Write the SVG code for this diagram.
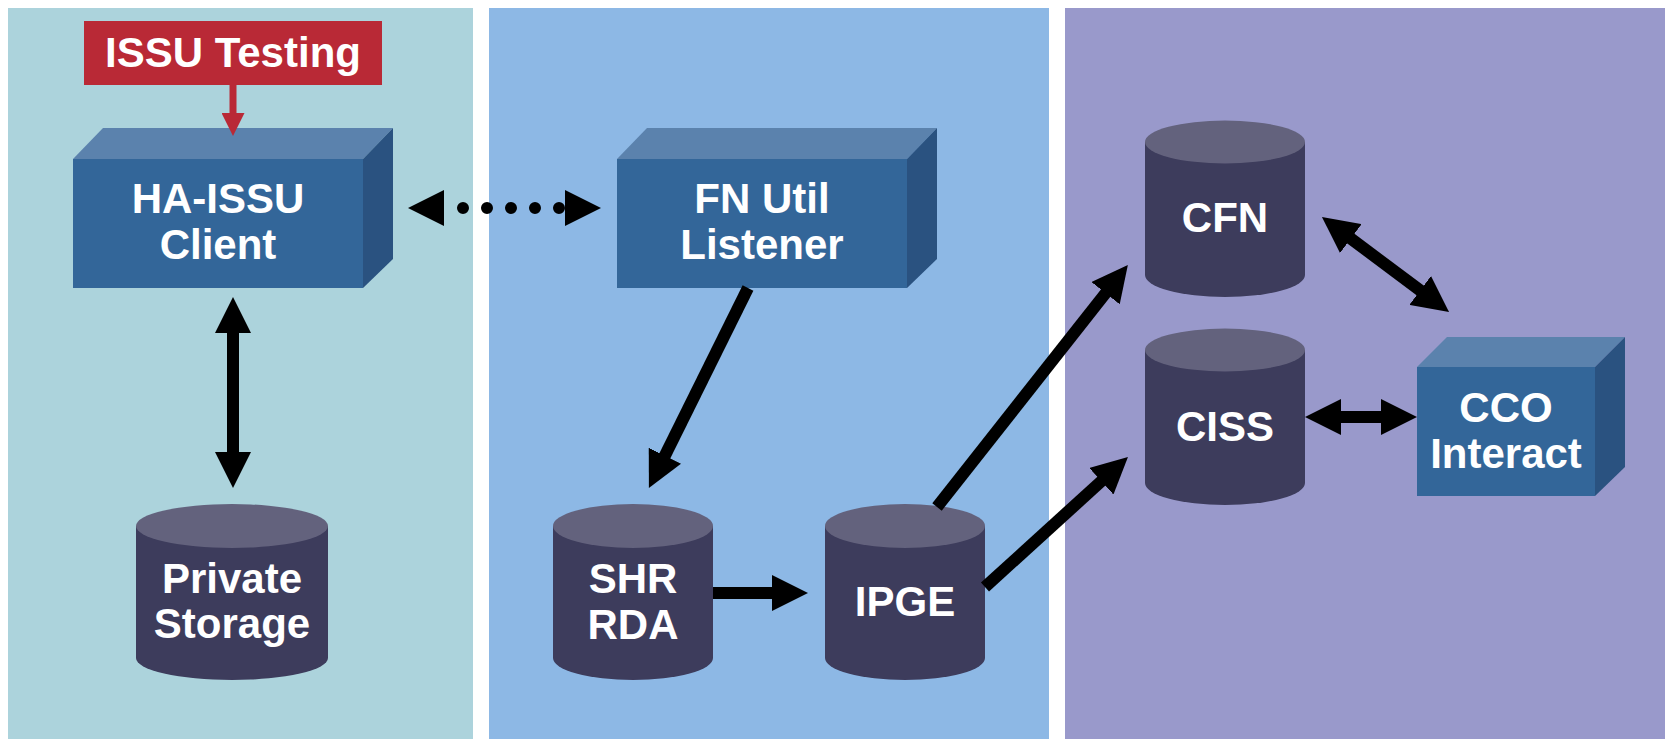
<svg xmlns="http://www.w3.org/2000/svg" width="1665" height="739" viewBox="0 0 1665 739">
<style>
.lbl{font-family:"Liberation Sans",Arial,sans-serif;font-weight:bold;font-size:42px;fill:#ffffff;text-anchor:middle}
.front{fill:#336699}
.top{fill:#5B82AD}
.side{fill:#2A5280}
.body{fill:#3D3C5C}
.lid{fill:#63627D}
.conn{stroke:#000;stroke-width:12;fill:none}
</style>
<defs>
<marker id="ah" viewBox="0 0 36 36" refX="2" refY="18" markerWidth="36" markerHeight="36" markerUnits="userSpaceOnUse" orient="auto-start-reverse">
<path d="M0,0 L36,18 L0,36 Z" fill="#000"/>
</marker>
<marker id="ah0" viewBox="0 0 36 36" refX="0" refY="18" markerWidth="36" markerHeight="36" markerUnits="userSpaceOnUse" orient="auto-start-reverse">
<path d="M0,0 L36,18 L0,36 Z" fill="#000"/>
</marker>
<marker id="ahr" viewBox="0 0 23 23" refX="1" refY="11.5" markerWidth="23" markerHeight="23" markerUnits="userSpaceOnUse" orient="auto">
<path d="M0,0 L23,11.5 L0,23 Z" fill="#B92936"/>
</marker>
</defs>
<rect width="1665" height="739" fill="#ffffff"/>
<g id="panels">
<rect x="8" y="8" width="465" height="731" fill="#ACD3DC"/>
<rect x="489" y="8" width="560" height="731" fill="#8DB8E5"/>
<rect x="1065" y="8" width="600" height="731" fill="#9999CB"/>
</g>
<g id="issu-testing">
<rect x="84" y="21" width="298" height="64" fill="#B92936"/>
<text class="lbl" x="233" y="67">ISSU Testing</text>
</g>
<g id="ha-issu-client">
<polygon class="top" points="73,159 103,128 393,128 363,159"/>
<polygon class="side" points="363,159 393,128 393,259 363,288"/>
<rect class="front" x="73" y="159" width="290" height="129"/>
<text class="lbl" x="218" y="213">HA-ISSU</text>
<text class="lbl" x="218" y="259">Client</text>
</g>
<g id="fn-util-listener">
<polygon class="top" points="617,159 647,128 937,128 907,159"/>
<polygon class="side" points="907,159 937,128 937,259 907,288"/>
<rect class="front" x="617" y="159" width="290" height="129"/>
<text class="lbl" x="762" y="213">FN Util</text>
<text class="lbl" x="762" y="259">Listener</text>
</g>
<g id="cco-interact">
<polygon class="top" points="1417,367 1447,337 1625,337 1595,367"/>
<polygon class="side" points="1595,367 1625,337 1625,467 1595,496"/>
<rect class="front" x="1417" y="367" width="178" height="129"/>
<text class="lbl" x="1506" y="422">CCO</text>
<text class="lbl" x="1506" y="468">Interact</text>
</g>
<g id="private-storage">
<path class="body" d="M136,526 L136,658 A96,22 0 0 0 328,658 L328,526 Z"/>
<ellipse class="lid" cx="232" cy="526" rx="96" ry="22"/>
<text class="lbl" x="232" y="593">Private</text>
<text class="lbl" x="232" y="638">Storage</text>
</g>
<g id="shr-rda">
<path class="body" d="M553,526 L553,658 A80,22 0 0 0 713,658 L713,526 Z"/>
<ellipse class="lid" cx="633" cy="526" rx="80" ry="22"/>
<text class="lbl" x="633" y="593">SHR</text>
<text class="lbl" x="633" y="639">RDA</text>
</g>
<g id="ipge">
<path class="body" d="M825,526 L825,658 A80,22 0 0 0 985,658 L985,526 Z"/>
<ellipse class="lid" cx="905" cy="526" rx="80" ry="22"/>
<text class="lbl" x="905" y="616">IPGE</text>
</g>
<g id="cfn">
<path class="body" d="M1145,142 L1145,275 A80,22 0 0 0 1305,275 L1305,142 Z"/>
<ellipse class="lid" cx="1225" cy="142" rx="80" ry="21.5"/>
<text class="lbl" x="1225" y="232">CFN</text>
</g>
<g id="ciss">
<path class="body" d="M1145,350 L1145,483 A80,22 0 0 0 1305,483 L1305,350 Z"/>
<ellipse class="lid" cx="1225" cy="350" rx="80" ry="21.5"/>
<text class="lbl" x="1225" y="441">CISS</text>
</g>
<g id="connectors">
<line x1="233" y1="85" x2="233" y2="114" stroke="#B92936" stroke-width="7" marker-end="url(#ahr)"/>
<line class="conn" x1="233" y1="331" x2="233" y2="454" marker-start="url(#ah)" marker-end="url(#ah)"/>
<path d="M444,208 L565,208" stroke="none" fill="none" marker-start="url(#ah0)" marker-end="url(#ah0)"/>
<line x1="444" y1="208" x2="565" y2="208" stroke="#000" stroke-width="12" stroke-linecap="round" stroke-dasharray="0 24" stroke-dashoffset="5"/>
<line class="conn" x1="748" y1="288" x2="664" y2="457.5" marker-end="url(#ah)"/>
<line class="conn" x1="713" y1="593" x2="774" y2="593" marker-end="url(#ah)"/>
<line class="conn" x1="937" y1="507" x2="1106.8" y2="291.6" marker-end="url(#ah)"/>
<line class="conn" x1="985" y1="587" x2="1102.8" y2="479.9" marker-end="url(#ah)"/>
<line class="conn" x1="1349.2" y1="237.4" x2="1421.8" y2="291.6" marker-start="url(#ah)" marker-end="url(#ah)"/>
<line class="conn" x1="1339" y1="417" x2="1383" y2="417" marker-start="url(#ah)" marker-end="url(#ah)"/>
</g>
</svg>
